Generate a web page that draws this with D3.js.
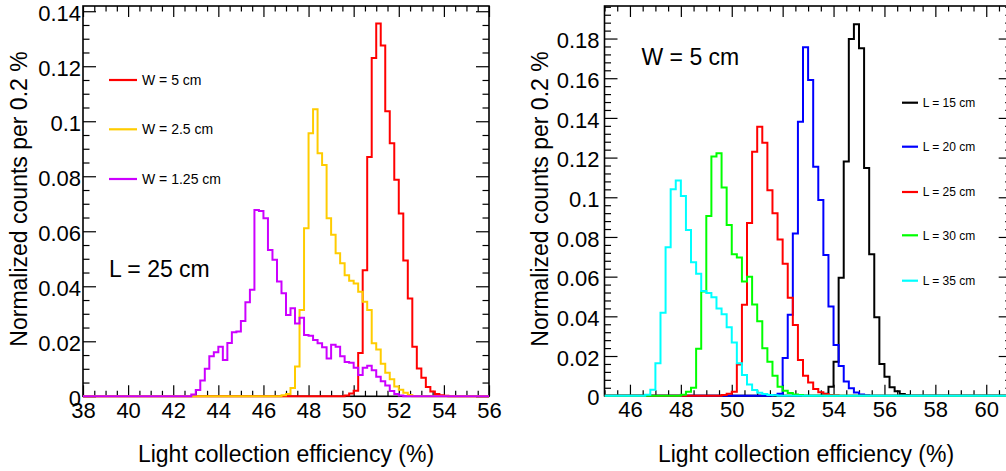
<!DOCTYPE html>
<html><head><meta charset="utf-8">
<script src="https://cdn.jsdelivr.net/npm/d3@7"></script>
<style>
body{margin:0;background:#fff}
svg{display:block}
text{font-family:"Liberation Sans",Arial,Helvetica,sans-serif;fill:#000}
</style>
</head><body>
<svg id="c" width="1006" height="471"></svg>
<script>
// ---------- data ----------
const binWidth = 0.2;

// Left panel (L = 25 cm), histograms by bar width W
const leftXTicks = [38, 40, 42, 44, 46, 48, 50, 52, 54, 56];
const leftYTicks = [0, 0.02, 0.04, 0.06, 0.08, 0.1, 0.12, 0.14];
const leftSeriesNames = ["W = 5 cm", "W = 2.5 cm", "W = 1.25 cm"];
const leftSeriesColors = ["#ff0000", "#ffcc00", "#cc00ff"];

// W = 5 cm, L = 25 cm (appears in both panels), first bin edge 49.6
const w5l25Start = 49.6;
const w5l25Values = [0.0003, 0.0010, 0.0020, 0.0157, 0.0458, 0.0870, 0.1230, 0.1355, 0.1275, 0.1036,
  0.0920, 0.0787, 0.0665, 0.0494, 0.0356, 0.0180, 0.0101, 0.0067, 0.0034, 0.0017, 0.0008, 0.0004, 0.0002];

// W = 2.5 cm, first bin edge 46.8
const w25Start = 46.8;
const w25Values = [0.0004, 0.0008, 0.0030, 0.0108, 0.0314, 0.0611, 0.0956, 0.1044, 0.0884, 0.0841,
  0.0647, 0.0587, 0.0520, 0.0484, 0.0440, 0.0420, 0.0410, 0.0380, 0.0344, 0.0314,
  0.0193, 0.0170, 0.0118, 0.0086, 0.0062, 0.0036, 0.0024, 0.0013, 0.0005];

// W = 1.25 cm, first bin edge 42.8
const w125Start = 42.8;
const w125Values = [0.0007, 0.0023, 0.0057, 0.0100, 0.0146, 0.0160, 0.0180, 0.0132, 0.0194, 0.0233,
  0.0236, 0.0274, 0.0342, 0.0387, 0.0677, 0.0674, 0.0647, 0.0532, 0.0496, 0.0417,
  0.0375, 0.0296, 0.0320, 0.0265, 0.0286, 0.0223, 0.0220, 0.0205, 0.0193, 0.0178,
  0.0137, 0.0187, 0.0180, 0.0146, 0.0125, 0.0122, 0.0104, 0.0077, 0.0104, 0.0111,
  0.0095, 0.0071, 0.0055, 0.0039, 0.0019, 0.0008, 0.0003];

// Right panel (W = 5 cm), histograms by length L
const rightXTicks = [46, 48, 50, 52, 54, 56, 58, 60];
const rightYTicks = [0, 0.02, 0.04, 0.06, 0.08, 0.1, 0.12, 0.14, 0.16, 0.18];
const rightSeriesNames = ["L = 15 cm", "L = 20 cm", "L = 25 cm", "L = 30 cm", "L = 35 cm"];
const rightSeriesColors = ["#000000", "#0000ff", "#ff0000", "#00ff00", "#00ffff"];

const l15Start = 53.6;
const l15Values = [0.0010, 0.0045, 0.0171, 0.0594, 0.1180, 0.1798, 0.1872, 0.1751, 0.1147, 0.0713,
  0.0395, 0.0160, 0.0096, 0.0043, 0.0023, 0.0008, 0.0003];

const l20Start = 51.6;
const l20Values = [0.0004, 0.0010, 0.0190, 0.0408, 0.0818, 0.1381, 0.1756, 0.1591, 0.1154, 0.0986,
  0.0709, 0.0450, 0.0256, 0.0150, 0.0072, 0.0038, 0.0016, 0.0006, 0.0002];

const l30Start = 48.0;
const l30Values = [0.0005, 0.0020, 0.0040, 0.0237, 0.0525, 0.0906, 0.1205, 0.1222, 0.1049, 0.0860,
  0.0713, 0.0696, 0.0575, 0.0600, 0.0460, 0.0375, 0.0239, 0.0171, 0.0100, 0.0045,
  0.0025, 0.0013, 0.0006, 0.0003];

const l35Start = 46.6;
const l35Values = [0.0005, 0.0030, 0.0163, 0.0418, 0.0748, 0.1040, 0.1084, 0.1007, 0.0835, 0.0673,
  0.0614, 0.0528, 0.0518, 0.0496, 0.0440, 0.0410, 0.0345, 0.0268, 0.0163, 0.0104,
  0.0057, 0.0029, 0.0015, 0.0008, 0.0004, 0.0002];

// ---------- drawing ----------
const svg = d3.select("#c");
const yFmt = d => d === 0 ? "0" : String(+d.toFixed(2));

function binsFor(start, values, domain) {
  const n = Math.round((domain[1] - domain[0]) / binWidth);
  const off = Math.round((start - domain[0]) / binWidth);
  const pts = [];
  let last = 0;
  for (let i = 0; i < n; i++) {
    const k = i - off;
    const v = (k >= 0 && k < values.length) ? values[k] : 0;
    pts.push([domain[0] + i * binWidth, v]);
    last = v;
  }
  pts.push([domain[1], last]);
  return pts;
}

function drawPanel(cfg, id) {
  const x = d3.scaleLinear().domain(cfg.xDomain).range([cfg.left, cfg.right]);
  const y = d3.scaleLinear().domain(cfg.yDomain).range([cfg.bottom, cfg.top]);
  const g = svg.append("g");
  const xMinor = d3.range(cfg.xDomain[0], cfg.xDomain[1] + 1e-9, 0.5).filter(v => !cfg.xTicks.includes(v));
  const yMinor = d3.range(0, cfg.yDomain[1], cfg.yMinorStep).map(v => +v.toFixed(4))
      .filter(v => !cfg.yTicks.some(t => Math.abs(t - v) < 1e-6));
  const clean = s => { s.select(".domain").remove(); s.selectAll("line").attr("stroke", "#000").attr("stroke-width", 1.2); };

  // bottom
  g.append("g").attr("transform", `translate(0,${cfg.bottom})`)
    .call(d3.axisBottom(x).tickValues(cfg.xTicks).tickSize(-11).tickSizeOuter(0).tickPadding(6).tickFormat(d3.format("d")))
    .call(clean).call(s => s.selectAll("text").attr("font-size", 22).attr("font-family", null));
  g.append("g").attr("transform", `translate(0,${cfg.bottom})`)
    .call(d3.axisBottom(x).tickValues(xMinor).tickSize(-5.5).tickSizeOuter(0).tickFormat(""))
    .call(clean);
  // top
  g.append("g").attr("transform", `translate(0,${cfg.top})`)
    .call(d3.axisTop(x).tickValues(cfg.xTicks).tickSize(-11).tickSizeOuter(0).tickFormat(""))
    .call(clean);
  g.append("g").attr("transform", `translate(0,${cfg.top})`)
    .call(d3.axisTop(x).tickValues(xMinor).tickSize(-5.5).tickSizeOuter(0).tickFormat(""))
    .call(clean);
  // left
  g.append("g").attr("transform", `translate(${cfg.left},0)`)
    .call(d3.axisLeft(y).tickValues(cfg.yTicks).tickSize(-13).tickSizeOuter(0).tickPadding(cfg.yPad).tickFormat(yFmt))
    .call(clean).call(s => s.selectAll("text").attr("font-size", 22).attr("font-family", null).attr("dy", "0.42em"));
  g.append("g").attr("transform", `translate(${cfg.left},0)`)
    .call(d3.axisLeft(y).tickValues(yMinor).tickSize(-6.5).tickSizeOuter(0).tickFormat(""))
    .call(clean);
  // right
  g.append("g").attr("transform", `translate(${cfg.right},0)`)
    .call(d3.axisRight(y).tickValues(cfg.yTicks).tickSize(-13).tickSizeOuter(0).tickFormat(""))
    .call(clean);
  g.append("g").attr("transform", `translate(${cfg.right},0)`)
    .call(d3.axisRight(y).tickValues(yMinor).tickSize(-6.5).tickSizeOuter(0).tickFormat(""))
    .call(clean);

  // frame
  g.append("rect").attr("x", cfg.left).attr("y", cfg.top)
    .attr("width", cfg.right - cfg.left).attr("height", cfg.bottom - cfg.top)
    .attr("fill", "none").attr("stroke", "#000").attr("stroke-width", 1.6);

  // histograms
  g.append("clipPath").attr("id", "clip" + id).append("rect")
    .attr("x", cfg.left).attr("y", cfg.top - 2)
    .attr("width", cfg.right - cfg.left).attr("height", cfg.bottom - cfg.top + 4);
  const line = d3.line().x(d => x(d[0])).y(d => y(d[1])).curve(d3.curveStepAfter);
  const hg = g.append("g").attr("clip-path", `url(#clip${id})`);
  cfg.series.forEach(s => {
    hg.append("path").attr("d", line(binsFor(s.start, s.values, cfg.xDomain)))
      .attr("fill", "none").attr("stroke", s.color).attr("stroke-width", 2)
      .attr("stroke-linejoin", "miter");
  });

  // axis titles
  g.append("text").attr("x", cfg.xTitleX).attr("y", 462).attr("text-anchor", "middle")
    .attr("font-size", 23).text("Light collection efficiency (%)");
  g.append("text").attr("transform", `translate(${cfg.yTitleX},199) rotate(-90)`)
    .attr("text-anchor", "middle").attr("font-size", 23).text("Normalized counts per 0.2 %");

  // legend
  cfg.legend.forEach((it, i) => {
    const ly = cfg.legendY[i];
    g.append("line").attr("x1", cfg.legendX0).attr("x2", cfg.legendX1).attr("y1", ly).attr("y2", ly)
      .attr("stroke", it.color).attr("stroke-width", 2.2);
    g.append("text").attr("x", cfg.legendTextX).attr("y", ly).attr("dy", "0.36em")
      .attr("font-size", cfg.legendFont).text(it.name);
  });
  g.append("text").attr("x", cfg.note.x).attr("y", cfg.note.y).attr("font-size", 23).text(cfg.note.text);
}

drawPanel({
  xDomain: [38, 56], yDomain: [0, 0.1419],
  left: 83, right: 489, top: 6, bottom: 396.3,
  xTicks: leftXTicks, yTicks: leftYTicks, yMinorStep: 0.005, yPad: 2,
  xTitleX: 286, yTitleX: 27,
  series: [
    {start: w5l25Start, values: w5l25Values, color: leftSeriesColors[0]},
    {start: w25Start, values: w25Values, color: leftSeriesColors[1]},
    {start: w125Start, values: w125Values, color: leftSeriesColors[2]}
  ],
  legend: leftSeriesNames.map((n, i) => ({name: n, color: leftSeriesColors[i]})),
  legendY: [80, 129.3, 179], legendX0: 109, legendX1: 137, legendTextX: 142, legendFont: 14,
  note: {x: 109, y: 277, text: "L = 25 cm"}
}, "L");

drawPanel({
  xDomain: [45, 61], yDomain: [0, 0.1964],
  left: 604.5, right: 1011.7, top: 6, bottom: 395.7,
  xTicks: rightXTicks, yTicks: rightYTicks, yMinorStep: 0.004, yPad: 5,
  xTitleX: 806, yTitleX: 548,
  series: [
    {start: l15Start, values: l15Values, color: rightSeriesColors[0]},
    {start: l20Start, values: l20Values, color: rightSeriesColors[1]},
    {start: w5l25Start, values: w5l25Values, color: rightSeriesColors[2]},
    {start: l30Start, values: l30Values, color: rightSeriesColors[3]},
    {start: l35Start, values: l35Values, color: rightSeriesColors[4]}
  ],
  legend: rightSeriesNames.map((n, i) => ({name: n, color: rightSeriesColors[i]})),
  legendY: [102.7, 146.7, 192, 235.3, 280.7], legendX0: 902, legendX1: 918, legendTextX: 922.7, legendFont: 12,
  note: {x: 641.5, y: 65, text: "W = 5 cm"}
}, "R");
</script>
</body></html>
